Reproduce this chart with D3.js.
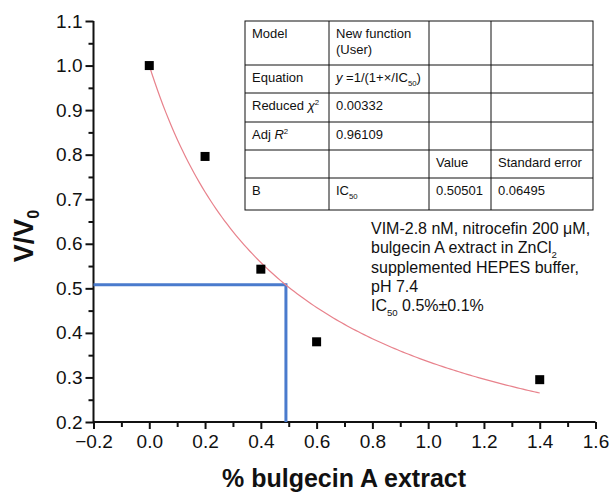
<!doctype html>
<html lang="en">
<head>
<meta charset="utf-8">
<title>bulgecin A IC50</title>
<style>
html, body {
	margin: 0;
	padding: 0;
	background: #fff;
	overflow: hidden;
}
svg text {
	font-family: 'Liberation Sans', Arial, sans-serif;
	fill: #111;
}
</style>
</head>
<body>
<div id="chart"></div>
<script src="https://cdnjs.cloudflare.com/ajax/libs/d3/7.8.5/d3.min.js"></script>
<script>
// measured points
var conc = [0, 0.2, 0.4, 0.6, 1.4];
var ratio = [1.0, 0.796, 0.543, 0.380, 0.295];

// fit result
var ic50 = 0.50501;
var fitFrom = 0, fitTo = 1.4;

// guide lines to the half point
var guideX = 0.49;
var guideY = 0.508;

var xTicks = [-0.2, 0.0, 0.2, 0.4, 0.6, 0.8, 1.0, 1.2, 1.4, 1.6];
var yTicks = [0.2, 0.3, 0.4, 0.5, 0.6, 0.7, 0.8, 0.9, 1.0, 1.1];

// table cells: each cell is a list of [text, style] runs
var tableRows = [
	[[['Model']], [['New function'], ['\n'], ['(User)']], [], []],
	[[['Equation']], [['y', 'i'], [' =1/(1+×/IC'], ['50', 'sub'], [')']], [], []],
	[[['Reduced '], ['χ', 'i'], ['2', 'sup']], [['0.00332']], [], []],
	[[['Adj '], ['R', 'i'], ['2', 'sup']], [['0.96109']], [], []],
	[[], [], [['Value']], [['Standard error']]],
	[[['B']], [['IC'], ['50', 'sub']], [['0.50501']], [['0.06495']]]
];

var noteLines = [
	[['VIM-2.8 nM, nitrocefin 200 μM,']],
	[['bulgecin A extract in ZnCl'], ['2', 'sub']],
	[['supplemented HEPES buffer,']],
	[['pH 7.4']],
	[['IC'], ['50', 'sub'], [' 0.5%±0.1%']]
];

var W = 610, H = 493;
var x = d3.scaleLinear().domain([-0.2, 1.6]).range([93.5, 595.5]);
var y = d3.scaleLinear().domain([0.2, 1.1]).range([422, 21]);

var svg = d3.select('#chart').append('svg')
	.attr('width', W).attr('height', H);

// writes runs of text with italic / sub / sup into a text element
var addRuns = function (sel, runs, size) {
	var shift = 0;
	runs.forEach(function (r) {
		var t = sel.append('tspan').text(r[0]);
		var want = 0;
		if (r[1] === 'i') t.attr('font-style', 'italic');
		if (r[1] === 'sub') want = size * 0.3;
		if (r[1] === 'sup') want = -size * 0.4;
		if (r[1] === 'sub' || r[1] === 'sup') t.attr('font-size', size * 0.6);
		if (want - shift !== 0) t.attr('dy', want - shift);
		shift = want;
	});
};

/* AXES */

var xAxis = d3.axisBottom(x).tickValues(xTicks).tickSize(7).tickPadding(6)
	.tickFormat(function (d) { return d3.format('.1f')(d).replace('-', '–'); });
var yAxis = d3.axisLeft(y).tickValues(yTicks).tickSize(8).tickPadding(3)
	.tickFormat(d3.format('.1f'));

var minorX = d3.range(-0.1, 1.6, 0.2);
var minorY = d3.range(0.25, 1.1, 0.1);

svg.append('g').attr('transform', 'translate(0,' + y(0.2) + ')')
	.call(d3.axisBottom(x).tickValues(minorX).tickSize(5).tickFormat(''))
	.call(function (g) { g.select('.domain').remove(); g.selectAll('text').remove(); });
svg.append('g').attr('transform', 'translate(' + x(-0.2) + ',0)')
	.call(d3.axisLeft(y).tickValues(minorY).tickSize(5).tickFormat(''))
	.call(function (g) { g.select('.domain').remove(); g.selectAll('text').remove(); });

var gx = svg.append('g').attr('transform', 'translate(0,' + y(0.2) + ')').call(xAxis);
var gy = svg.append('g').attr('transform', 'translate(' + x(-0.2) + ',0)').call(yAxis);

[gx, gy].forEach(function (g) {
	g.select('.domain').attr('stroke', '#111').attr('stroke-width', 2).attr('d',
		g === gx ? 'M' + x(-0.2) + ',0H' + x(1.6) : 'M0,' + y(0.2) + 'V' + y(1.1));
	g.selectAll('.tick text').attr('font-size', 19).attr('fill', '#111')
		.attr('font-family', "'Liberation Sans', Arial, sans-serif");
});
svg.selectAll('.tick line').attr('stroke', '#111').attr('stroke-width', 2);

/* GUIDES */

svg.append('path')
	.attr('d', 'M' + x(-0.2) + ',' + y(guideY) + 'H' + x(guideX) + 'V' + y(0.2))
	.attr('fill', 'none').attr('stroke', '#4a7bcd').attr('stroke-width', 3);

/* FIT */

var fitPts = d3.range(0, 141).map(function (i) {
	var xv = fitFrom + (fitTo - fitFrom) * i / 140;
	return [xv, 1 / (1 + xv / ic50)];
});
svg.append('path').datum(fitPts)
	.attr('d', d3.line().x(function (d) { return x(d[0]); }).y(function (d) { return y(d[1]); }))
	.attr('fill', 'none').attr('stroke', '#e8828c').attr('stroke-width', 1.2);

/* POINTS */

svg.selectAll('rect.pt').data(conc).enter().append('rect')
	.attr('class', 'pt')
	.attr('x', function (d) { return x(d) - 4.5; })
	.attr('y', function (d, i) { return y(ratio[i]) - 4.5; })
	.attr('width', 9).attr('height', 9).attr('fill', '#000');

/* LABELS */

svg.append('text').attr('x', 344).attr('y', 487).attr('text-anchor', 'middle')
	.attr('font-size', 25).attr('font-weight', 'bold').text('% bulgecin A extract');

var yl = svg.append('text').attr('transform', 'translate(33,236) rotate(-90)')
	.attr('text-anchor', 'middle').attr('font-size', 27).attr('font-weight', 'bold');
yl.append('tspan').text('V/V');
yl.append('tspan').attr('font-size', 16).attr('dy', 6).text('0');

/* TABLE */

var colX = [245, 329, 429, 491, 593];
var rowY = [21, 65, 93, 122, 150, 178, 210];
var tb = svg.append('g');

tb.append('rect').attr('x', colX[0]).attr('y', rowY[0])
	.attr('width', colX[4] - colX[0]).attr('height', rowY[6] - rowY[0])
	.attr('fill', '#fff').attr('stroke', '#111').attr('stroke-width', 1);
colX.slice(1, 4).forEach(function (cx) {
	tb.append('line').attr('x1', cx).attr('x2', cx).attr('y1', rowY[0]).attr('y2', rowY[6])
		.attr('stroke', '#111');
});
rowY.slice(1, 6).forEach(function (ry) {
	tb.append('line').attr('x1', colX[0]).attr('x2', colX[4]).attr('y1', ry).attr('y2', ry)
		.attr('stroke', '#111');
});

tableRows.forEach(function (row, ri) {
	row.forEach(function (cell, ci) {
		if (!cell.length) return;
		var lines = [[]];
		cell.forEach(function (r) {
			if (r[0] === '\n') lines.push([]);
			else lines[lines.length - 1].push(r);
		});
		lines.forEach(function (ln, li) {
			var t = tb.append('text').attr('x', colX[ci] + 7)
				.attr('y', rowY[ri] + 17 + li * 16).attr('font-size', 13);
			addRuns(t, ln, 13);
		});
	});
});

/* NOTE */

noteLines.forEach(function (ln, i) {
	var t = svg.append('text').attr('x', 371).attr('y', 234 + i * 19.3).attr('font-size', 16);
	addRuns(t, ln, 16);
});
</script>
</body>
</html>
